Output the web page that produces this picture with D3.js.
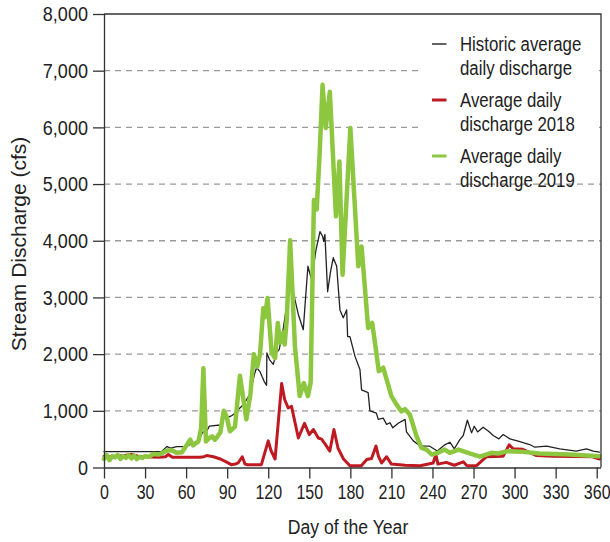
<!DOCTYPE html>
<html>
<head>
<meta charset="utf-8">
<script src="https://cdn.jsdelivr.net/npm/d3@7"></script>
<style>
  html, body { margin: 0; padding: 0; background: #fff; }
  svg { display: block; font-family: "Liberation Sans", Arial, sans-serif; }
</style>
</head>
<body>
<svg id="chart" width="610" height="542"></svg>
<script>
// Historic average daily discharge (day of year, cfs)
const histDays = [0, 42, 46, 49, 53, 60, 65, 69, 72, 75, 77, 85, 87, 90, 93, 96, 98, 100.6, 102, 105, 106.6, 110, 111.5, 114, 117, 118.8, 119, 121, 123.7, 126, 128, 131, 134, 136.6, 139.5, 142, 145.6, 147, 149, 151.7, 154.9, 157.8, 159.7, 160.5, 161.4, 163.4, 165.5, 167.5, 170, 172.4, 174.8, 177.3, 178, 179.7, 183.4, 187, 188.2, 193, 194.3, 199, 200.4, 204, 206.5, 209, 211, 215, 220, 221, 226, 231, 238, 243.5, 249, 252.7, 256, 260, 262.5, 265.5, 268.6, 270.5, 273, 277, 281, 284.4, 288.5, 291.7, 296.6, 302.6, 311, 314.8, 323.4, 333, 345, 352.6, 357.4, 362];
const histFlow = [280, 280, 370, 340, 370, 370, 430, 470, 620, 640, 730, 750, 880, 880, 910, 960, 1020, 1080, 1110, 1230, 1290, 1650, 1760, 1690, 1520, 1450, 2020, 1900, 1820, 2030, 2080, 2450, 2950, 3250, 2960, 2700, 2430, 2900, 3550, 3310, 3840, 4160, 4080, 3990, 4110, 3100, 3450, 3700, 3550, 2780, 2640, 2780, 2310, 2310, 1960, 1730, 1370, 1320, 1000, 960, 850, 870, 760, 790, 700, 780, 850, 630, 470, 380, 376, 290, 400, 446, 330, 493, 564, 834, 611, 728, 628, 711, 640, 564, 505, 581, 505, 464, 405, 358, 376, 329, 288, 329, 288, 270];

// Average daily discharge 2018
const days2018 = [0, 5, 10, 15, 20, 25, 30, 40, 45, 47, 50, 60, 70, 73, 75, 80, 85, 90, 93, 96, 98, 101, 103, 105, 110, 115, 120, 122, 125, 129.8, 132, 134.6, 137, 139.5, 142, 146.5, 150, 153, 156.6, 159, 162, 165, 168, 171, 175, 179.7, 188, 192, 195.5, 198.7, 200.5, 202.8, 206.5, 210, 220, 231, 240.5, 242.5, 244, 250, 256, 262.5, 265, 272, 279.5, 291.7, 296, 299, 306, 316, 328, 357, 362];
const flow2018 = [200, 190, 200, 210, 230, 200, 190, 180, 190, 230, 180, 180, 180, 190, 210, 190, 150, 90, 50, 60, 80, 190, 60, 50, 50, 50, 470, 300, 150, 1480, 1200, 1050, 1080, 800, 520, 780, 580, 670, 520, 500, 400, 290, 670, 340, 150, 30, 30, 140, 160, 380, 200, 80, 190, 60, 40, 30, 80, 230, 60, 90, 40, 100, 35, 30, 190, 200, 400, 330, 320, 210, 200, 190, 150];

// Average daily discharge 2019
const days2019 = [0, 2, 4, 6, 8, 10, 12, 14, 16, 18, 20, 22, 24, 26, 28, 30, 33, 36, 40, 43, 46, 50, 53, 57, 60, 63, 65, 69, 71, 72.6, 74.5, 77, 79, 81, 83, 85, 87.5, 89.6, 92, 95.7, 99.3, 104, 107, 109.5, 112, 114, 116.4, 117.5, 119.5, 122.5, 125, 127, 128.6, 131, 132, 133.5, 136, 139.5, 143, 146, 149, 151, 153.4, 155.4, 157.5, 159.7, 162, 165, 169.5, 172, 174.3, 180, 185.8, 188.2, 193, 196, 200.8, 204, 210, 214, 217.4, 220, 223.5, 228.4, 232, 235.7, 239.4, 244, 249, 252.7, 259, 266, 274.6, 283, 288, 295, 305, 318, 340, 362];
const flow2019 = [150, 220, 130, 200, 180, 220, 150, 200, 170, 220, 160, 210, 150, 190, 170, 200, 190, 240, 230, 260, 300, 300, 260, 270, 380, 490, 390, 460, 700, 1750, 460, 520, 550, 490, 550, 620, 1000, 900, 640, 720, 1620, 850, 1300, 2000, 1780, 2000, 2810, 2650, 2990, 2020, 1930, 2550, 2200, 2380, 2170, 2600, 4010, 2140, 1260, 1490, 1260, 1500, 4720, 4550, 5500, 6750, 5990, 6630, 4430, 5400, 3400, 5990, 3550, 3900, 2460, 2550, 1700, 1760, 1260, 1100, 990, 1030, 930, 550, 347, 317, 229, 259, 317, 259, 317, 260, 190, 259, 247, 288, 280, 247, 230, 200];

const xTicks = [0, 30, 60, 90, 120, 150, 180, 210, 240, 270, 300, 330, 360];
const yTicks = [0, 1000, 2000, 3000, 4000, 5000, 6000, 7000, 8000];

const legendItems = [
  { lines: ["Historic average", "daily discharge"], color: "#222", width: 1.4 },
  { lines: ["Average daily", "discharge 2018"], color: "#bf1a22", width: 3 },
  { lines: ["Average daily", "discharge 2019"], color: "#8dc63f", width: 3 }
];

const svg = d3.select("#chart");
const plotLeft = 104, plotRight = 601, plotTop = 14, plotBottom = 467.5;

const x = d3.scaleLinear().domain([0, 360]).range([104, 596.7]);
const y = d3.scaleLinear().domain([0, 8000]).range([plotBottom, plotTop]);

// narrow lettering: squeeze text horizontally around its own anchor point
function condense(sel, sx) {
  sel.each(function () {
    const t = d3.select(this);
    const tx = +t.attr("x") || 0;
    t.attr("x", 0).attr("transform", `translate(${tx},0) scale(${sx},1)`);
  });
}

// dashed horizontal gridlines
svg.append("g")
  .selectAll("line")
  .data(yTicks.filter(v => v > 0 && v < 8000))
  .join("line")
  .attr("x1", plotLeft).attr("x2", plotRight)
  .attr("y1", d => y(d)).attr("y2", d => y(d))
  .attr("stroke", "#9a9a9a").attr("stroke-width", 1.3)
  .attr("stroke-dasharray", "6,5");

// legend backdrop
svg.append("rect")
  .attr("x", 418).attr("y", 20).attr("width", 181).attr("height", 157)
  .attr("fill", "#fff");

const line = d3.line().x(d => x(d[0])).y(d => y(d[1]));
const series = [
  { days: histDays, flow: histFlow, color: "#222", width: 1.3 },
  { days: days2018, flow: flow2018, color: "#bf1a22", width: 3 },
  { days: days2019, flow: flow2019, color: "#8dc63f", width: 4.5 }
];
svg.append("g")
  .selectAll("path")
  .data(series)
  .join("path")
  .attr("d", s => line(s.days.map((d, i) => [d, s.flow[i]])))
  .attr("fill", "none")
  .attr("stroke", s => s.color)
  .attr("stroke-width", s => s.width)
  .attr("stroke-linejoin", "round")
  .attr("stroke-linecap", "round");

// frame: top and right edges
svg.append("path")
  .attr("d", `M${plotLeft},${plotTop}H${plotRight}V${plotBottom}`)
  .attr("fill", "none").attr("stroke", "#333").attr("stroke-width", 1.3);

// y axis
const yAxis = svg.append("g").attr("transform", `translate(${plotLeft},0)`)
  .call(d3.axisLeft(y).tickValues(yTicks).tickSize(11).tickPadding(5).tickFormat(d3.format(",")));
// x axis
const xAxis = svg.append("g").attr("transform", `translate(0,${plotBottom})`)
  .call(d3.axisBottom(x).tickValues(xTicks).tickSize(11).tickPadding(6));

[yAxis, xAxis].forEach(g => {
  g.select(".domain").attr("stroke", "#333").attr("stroke-width", 1.3);
  g.selectAll(".tick line").attr("stroke", "#333").attr("stroke-width", 1.3);
  g.selectAll(".tick text").attr("fill", "#222")
    .style("font-family", "'Liberation Sans', Arial, sans-serif");
});
yAxis.selectAll(".tick text").style("font-size", "21px").call(condense, 0.86);
xAxis.selectAll(".tick text").style("font-size", "20px").call(condense, 0.8);
xAxis.select(".domain").attr("d", `M${plotLeft},0.5H${plotRight}`);
yAxis.select(".domain").attr("d", `M0.5,${plotTop}V${plotBottom}`);

// axis titles
svg.append("text")
  .attr("x", 348).attr("y", 534).attr("text-anchor", "middle")
  .attr("font-size", 21).attr("fill", "#222")
  .text("Day of the Year")
  .call(condense, 0.84);
svg.append("text")
  .attr("transform", `translate(26,244) rotate(-90)`)
  .attr("text-anchor", "middle")
  .attr("font-size", 21).attr("fill", "#222")
  .text("Stream Discharge (cfs)");

// legend
const lg = svg.append("g");
legendItems.forEach((item, i) => {
  const cy = 44 + i * 56;
  lg.append("line")
    .attr("x1", 432).attr("x2", 446.5)
    .attr("y1", cy).attr("y2", cy)
    .attr("stroke", item.color).attr("stroke-width", item.width);
  item.lines.forEach((t, j) => {
    lg.append("text")
      .attr("x", 460).attr("y", 51 + i * 56 + j * 24)
      .attr("font-size", 21).attr("fill", "#222")
      .text(t)
      .call(condense, 0.8);
  });
});
</script>
</body>
</html>
